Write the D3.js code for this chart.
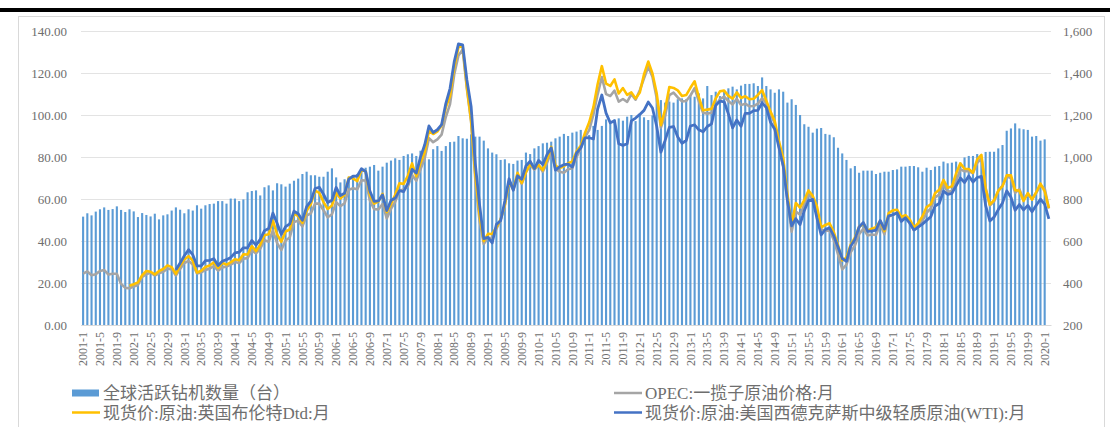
<!DOCTYPE html>
<html>
<head>
<meta charset="utf-8">
<script src="https://cdn.jsdelivr.net/npm/d3@7"></script>
<style>
  body { margin: 0; background: #fff; }
  svg { display: block; }
</style>
</head>
<body>
<svg id="chart"></svg>
<script>
const width = 1110, height = 427;

// months 2001-1 .. 2020-2
const months = [];
for (let y = 2001; y <= 2020; y++) {
  for (let m = 1; m <= 12; m++) {
    if (y === 2020 && m > 2) break;
    months.push(y + "-" + m);
  }
}
const tickMonths = months.filter((d, i) => i % 4 === 0);

const leftTicks = [0, 20, 40, 60, 80, 100, 120, 140];
const rightTicks = [200, 400, 600, 800, 1000, 1200, 1400, 1600];

// 全球活跃钻机数量（台）
const rigCount = [
  716, 732, 722, 740, 751, 760, 748, 752, 765, 748, 738, 751,
  741, 714, 733, 724, 717, 730, 703, 722, 727, 745, 760, 749,
  732, 751, 745, 770, 754, 770, 776, 778, 790, 790, 778, 802,
  802, 790, 798, 832, 838, 841, 817, 856, 865, 841, 875, 870,
  859, 873, 887, 897, 919, 930, 913, 913, 906, 906, 930, 946,
  903, 879, 894, 906, 914, 919, 943, 949, 954, 962, 935, 954,
  973, 983, 994, 986, 1005, 1013, 1017, 1005, 1030, 1057, 989, 1037,
  1052, 1029, 1052, 1071, 1073, 1100, 1089, 1087, 1108, 1097, 1097, 1078,
  1041, 1021, 1013, 986, 989, 970, 967, 983, 986, 1021, 1014, 1041,
  1052, 1065, 1068, 1073, 1089, 1097, 1110, 1100, 1116, 1121, 1129, 1097,
  1105, 1148, 1129, 1148, 1179, 1168, 1179, 1184, 1173, 1192, 1200, 1171,
  1202, 1189, 1176, 1198, 1284, 1271, 1259, 1264, 1259, 1275, 1279, 1275,
  1295, 1287, 1303, 1279, 1338, 1295, 1311, 1290, 1311, 1327, 1335, 1322,
  1340, 1348, 1348, 1351, 1338, 1379, 1338, 1322, 1306, 1322, 1311, 1259,
  1275, 1248, 1200, 1156, 1144, 1116, 1135, 1138, 1110, 1106, 1094, 1044,
  1017, 986, 946, 957, 925, 935, 935, 935, 919, 925, 930, 930,
  938, 941, 954, 954, 957, 957, 951, 930, 949, 938, 954, 957,
  978, 970, 973, 978, 973, 998, 1005, 1005, 1014, 989, 1024, 1025,
  1025, 1041, 1057, 1125, 1136, 1160, 1136, 1132, 1129, 1097, 1100, 1078,
  1084, null
];

// OPEC:一揽子原油价格:月
const opec = [
  24.44, 25.51, 23.69, 24.21, 25.74, 26.17, 24.04, 24.41, 24.40, 19.56, 17.67, 17.53,
  18.33, 19.04, 22.96, 24.13, 24.95, 23.56, 24.58, 25.38, 26.86, 26.38, 23.51, 26.63,
  29.48, 30.53, 28.80, 24.50, 25.04, 26.25, 26.82, 28.00, 25.84, 27.44, 27.87, 28.75,
  29.97, 29.52, 31.54, 31.85, 35.54, 34.13, 36.37, 40.34, 39.65, 44.97, 38.96, 35.70,
  40.24, 41.68, 49.07, 49.63, 46.96, 52.04, 53.13, 57.82, 57.88, 54.63, 51.29, 52.65,
  58.47, 56.61, 57.88, 64.44, 65.11, 64.60, 68.89, 68.81, 59.28, 55.20, 55.03, 57.59,
  50.73, 55.30, 58.68, 63.92, 64.47, 66.09, 71.42, 68.71, 74.18, 79.38, 88.99, 87.05,
  88.35, 90.64, 99.03, 105.16, 119.39, 128.33, 131.22, 112.41, 96.85, 69.16, 49.76, 38.60,
  41.52, 41.41, 45.78, 50.20, 56.98, 68.36, 64.59, 71.35, 67.17, 72.67, 76.29, 74.01,
  76.01, 72.99, 77.21, 82.33, 74.48, 72.95, 72.51, 74.15, 74.63, 79.93, 84.05, 89.53,
  92.83, 100.29, 109.84, 118.09, 109.94, 109.04, 111.62, 106.36, 107.61, 106.28, 109.95, 107.27,
  111.77, 117.48, 122.97, 118.18, 108.07, 93.98, 99.55, 109.52, 110.70, 108.36, 106.51, 106.66,
  109.28, 112.75, 106.44, 101.05, 100.65, 101.03, 104.45, 107.52, 108.73, 106.65, 105.04, 107.67,
  104.71, 105.38, 104.15, 104.27, 105.44, 107.89, 105.61, 100.75, 95.98, 85.06, 75.57, 59.46,
  44.38, 54.06, 52.46, 57.30, 62.16, 60.21, 54.19, 45.46, 44.83, 45.02, 40.50, 33.64,
  26.50, 28.72, 34.65, 37.86, 43.21, 45.84, 42.68, 43.10, 42.89, 47.87, 43.22, 51.67,
  52.40, 53.37, 50.32, 51.43, 49.20, 45.21, 46.93, 49.60, 53.44, 55.50, 60.74, 62.06,
  66.85, 63.48, 63.76, 68.43, 74.11, 73.22, 73.27, 72.26, 77.18, 79.39, 65.33, 56.94,
  58.74, 63.83, 66.37, 70.78, 69.97, 62.92, 64.71, 59.62, 62.36, 59.91, 62.94, 66.48,
  65.10, 55.49
];

// 现货价:原油:英国布伦特Dtd:月
const brent = [
  null, null, null, null, null, null, null, null, null, null, null, 18.71,
  19.42, 20.28, 23.70, 25.73, 25.35, 24.08, 25.74, 26.65, 28.40, 27.54, 24.34, 28.33,
  31.18, 32.77, 30.61, 25.00, 25.86, 27.65, 28.35, 29.89, 27.11, 29.61, 28.75, 29.81,
  31.28, 30.86, 33.63, 33.59, 37.57, 35.18, 38.22, 42.74, 43.20, 49.78, 43.11, 39.60,
  44.51, 45.48, 53.10, 51.88, 48.65, 54.35, 57.52, 63.98, 62.91, 58.54, 55.24, 56.86,
  62.99, 60.21, 62.06, 70.26, 69.78, 68.56, 73.67, 73.23, 61.96, 57.81, 58.76, 62.47,
  53.68, 57.56, 62.05, 67.49, 67.21, 71.05, 76.93, 70.76, 77.17, 82.34, 92.41, 90.93,
  92.18, 94.99, 103.64, 109.07, 122.80, 132.32, 132.72, 113.24, 97.23, 71.58, 52.45, 39.95,
  43.44, 43.32, 46.54, 50.18, 57.30, 68.61, 64.44, 72.51, 67.65, 72.77, 76.66, 74.46,
  76.17, 73.75, 78.83, 84.82, 75.95, 74.76, 75.58, 77.04, 77.84, 82.67, 85.28, 91.45,
  96.52, 103.72, 114.64, 123.26, 114.99, 113.83, 116.97, 110.22, 112.83, 109.55, 110.77, 107.87,
  110.69, 119.33, 125.45, 119.75, 110.34, 95.16, 102.62, 113.36, 112.86, 111.71, 109.06, 109.49,
  112.96, 116.05, 108.47, 102.25, 102.56, 102.92, 107.93, 111.28, 111.60, 109.08, 107.79, 110.76,
  108.12, 108.90, 107.48, 107.76, 109.54, 111.80, 106.77, 101.61, 97.09, 87.43, 79.44, 62.34,
  47.76, 58.10, 55.89, 59.52, 64.08, 61.48, 56.56, 46.52, 47.62, 48.43, 44.27, 38.01,
  30.70, 32.18, 38.21, 41.58, 46.74, 48.25, 44.95, 45.84, 46.57, 49.52, 44.73, 53.31,
  54.58, 54.87, 51.59, 52.31, 50.33, 46.37, 48.48, 51.70, 56.15, 57.51, 62.71, 64.37,
  69.08, 65.32, 66.02, 72.11, 76.98, 74.41, 74.25, 72.53, 78.89, 81.03, 64.75, 57.36,
  59.41, 63.96, 66.14, 71.23, 71.32, 64.22, 63.92, 59.04, 62.83, 59.71, 63.21, 67.31,
  63.65, 55.66
];

// 现货价:原油:美国西德克萨斯中级轻质原油(WTI):月
const wti = [
  null, null, null, null, null, null, null, null, null, null, null, null,
  null, null, null, null, null, null, null, null, null, null, 26.35, 29.46,
  32.95, 35.83, 33.51, 28.17, 28.11, 30.66, 30.76, 31.57, 28.31, 30.34, 31.11, 32.13,
  34.31, 34.69, 36.74, 36.75, 40.28, 38.03, 40.78, 44.90, 45.94, 53.28, 48.47, 43.15,
  46.84, 48.15, 54.19, 52.98, 49.83, 56.35, 59.00, 64.99, 65.59, 62.26, 58.32, 59.41,
  65.49, 61.63, 62.69, 69.44, 70.84, 70.95, 74.41, 73.04, 63.80, 58.89, 59.08, 61.96,
  54.51, 59.28, 60.44, 63.98, 63.46, 67.49, 74.12, 72.36, 79.92, 85.80, 94.77, 91.69,
  92.97, 95.39, 105.45, 112.58, 125.40, 133.88, 133.37, 116.67, 104.11, 76.61, 57.31, 41.12,
  41.71, 39.09, 47.94, 49.65, 59.03, 69.64, 64.15, 71.05, 69.41, 75.72, 77.99, 74.47,
  78.33, 76.39, 81.20, 84.29, 73.74, 75.34, 76.32, 76.60, 75.24, 81.89, 84.25, 89.15,
  89.17, 88.58, 102.86, 109.53, 100.90, 96.26, 97.30, 86.33, 85.52, 86.32, 97.16, 98.56,
  100.27, 102.20, 106.16, 103.32, 94.66, 82.30, 87.90, 94.13, 94.51, 89.49, 86.53, 87.86,
  94.76, 95.31, 92.94, 92.02, 94.51, 95.77, 104.67, 106.57, 106.29, 100.54, 93.86, 97.63,
  94.62, 100.82, 100.80, 102.07, 102.18, 105.79, 103.59, 96.54, 93.21, 84.40, 75.79, 59.29,
  47.22, 50.58, 47.82, 54.45, 59.27, 59.82, 50.90, 42.87, 45.48, 46.22, 42.44, 37.19,
  31.68, 30.32, 37.55, 40.75, 46.71, 48.76, 44.65, 44.72, 45.18, 49.78, 45.66, 51.97,
  52.50, 53.47, 49.33, 51.06, 48.48, 45.18, 46.63, 48.04, 49.82, 51.58, 56.64, 57.88,
  63.70, 62.23, 62.73, 66.25, 69.98, 67.87, 70.98, 68.06, 70.23, 70.75, 56.96, 49.52,
  51.38, 54.95, 58.15, 63.86, 60.83, 54.66, 57.35, 54.81, 56.95, 53.96, 57.03, 59.88,
  57.52, 50.54
];

const seriesNames = [
  "全球活跃钻机数量（台）",
  "OPEC:一揽子原油价格:月",
  "现货价:原油:英国布伦特Dtd:月",
  "现货价:原油:美国西德克萨斯中级轻质原油(WTI):月"
];

const colors = { rig: "#5b9bd5", opec: "#a5a5a5", brent: "#ffc000", wti: "#4472c4" };
const textColor = "#6e6e6e";
const fontFamily = "'Liberation Serif', 'Noto Sans CJK SC', serif";

const plot = { left: 81, right: 1051, top: 31, bottom: 325 };

const svg = d3.select("#chart").attr("width", width).attr("height", height);

// top black rule and chart frame
svg.append("rect").attr("x", 0).attr("y", 8).attr("width", width).attr("height", 4).attr("fill", "#000");
svg.append("rect")
   .attr("x", 18.5).attr("y", 16.5).attr("width", 1086).attr("height", 430)
   .attr("fill", "none").attr("stroke", "#d9d9d9");

const x = d3.scaleBand().domain(months).range([plot.left, plot.right])
            .paddingInner(0.5).paddingOuter(0.25);
const yL = d3.scaleLinear().domain([0, 140]).range([plot.bottom, plot.top]);
const yR = d3.scaleLinear().domain([200, 1600]).range([plot.bottom, plot.top]);
const cx = d => x(d) + x.bandwidth() / 2;

// gridlines
svg.append("g")
   .selectAll("line")
   .data(leftTicks)
   .enter()
   .append("line")
   .attr("x1", plot.left).attr("x2", plot.right)
   .attr("y1", d => Math.round(yL(d)) + 0.5).attr("y2", d => Math.round(yL(d)) + 0.5)
   .attr("stroke", "#e3e3e3").attr("stroke-width", 1);

// bars
svg.append("g")
   .selectAll("rect")
   .data(months.map((m, i) => ({ m, v: rigCount[i] })).filter(d => d.v != null))
   .enter()
   .append("rect")
   .attr("x", d => x(d.m))
   .attr("width", x.bandwidth())
   .attr("y", d => yR(d.v))
   .attr("height", d => yR(200) - yR(d.v))
   .attr("fill", colors.rig);

// lines
const line = d3.line()
  .defined(d => d.v != null)
  .x(d => cx(d.m))
  .y(d => yL(d.v));

[[opec, colors.opec, 2.6], [brent, colors.brent, 2.6], [wti, colors.wti, 2.8]].forEach(([vals, c, w]) => {
  svg.append("path")
     .datum(months.map((m, i) => ({ m, v: vals[i] })))
     .attr("d", line)
     .attr("fill", "none")
     .attr("stroke", c)
     .attr("stroke-width", w)
     .attr("stroke-linejoin", "round");
});

// axes
const axisL = svg.append("g")
  .attr("transform", `translate(${plot.left - 14},0)`)
  .call(d3.axisLeft(yL).tickValues(leftTicks).tickFormat(d3.format(".2f")).tickSize(0).tickPadding(0));
const axisR = svg.append("g")
  .attr("transform", `translate(${plot.right + 12},0)`)
  .call(d3.axisRight(yR).tickValues(rightTicks).tickFormat(d3.format(",")).tickSize(0).tickPadding(0));
[axisL, axisR].forEach(g => {
  g.select(".domain").remove();
  g.selectAll("text").attr("fill", textColor).style("font-family", fontFamily).style("font-size", "13px");
});

const axisB = svg.append("g")
  .attr("transform", `translate(0,${plot.bottom})`)
  .call(d3.axisBottom(x).tickValues(tickMonths).tickSize(0).tickPadding(0));
axisB.select(".domain").attr("stroke", "#d9d9d9");
axisB.selectAll("text")
  .attr("fill", textColor)
  .style("font-family", fontFamily)
  .style("font-size", "12px")
  .attr("text-anchor", "end")
  .attr("transform", "rotate(-90)")
  .attr("x", -7)
  .attr("y", 0)
  .attr("dy", "0.35em");

// legend
const legend = svg.append("g").style("font-family", fontFamily).style("font-size", "17px");
legend.append("rect").attr("x", 72).attr("y", 389.5).attr("width", 27).attr("height", 7).attr("fill", colors.rig);
legend.append("line").attr("x1", 72).attr("x2", 100).attr("y1", 412.5).attr("y2", 412.5)
      .attr("stroke", colors.brent).attr("stroke-width", 2.5);
legend.append("line").attr("x1", 614).attr("x2", 642).attr("y1", 393).attr("y2", 393)
      .attr("stroke", colors.opec).attr("stroke-width", 2.5);
legend.append("line").attr("x1", 614).attr("x2", 642).attr("y1", 412.5).attr("y2", 412.5)
      .attr("stroke", colors.wti).attr("stroke-width", 2.5);

const legendText = [
  [seriesNames[0], 103, 399],
  [seriesNames[2], 103, 419],
  [seriesNames[1], 645, 399],
  [seriesNames[3], 645, 419]
];
legend.selectAll("text")
  .data(legendText)
  .enter()
  .append("text")
  .attr("x", d => d[1])
  .attr("y", d => d[2])
  .attr("fill", textColor)
  .text(d => d[0]);
</script>
</body>
</html>
